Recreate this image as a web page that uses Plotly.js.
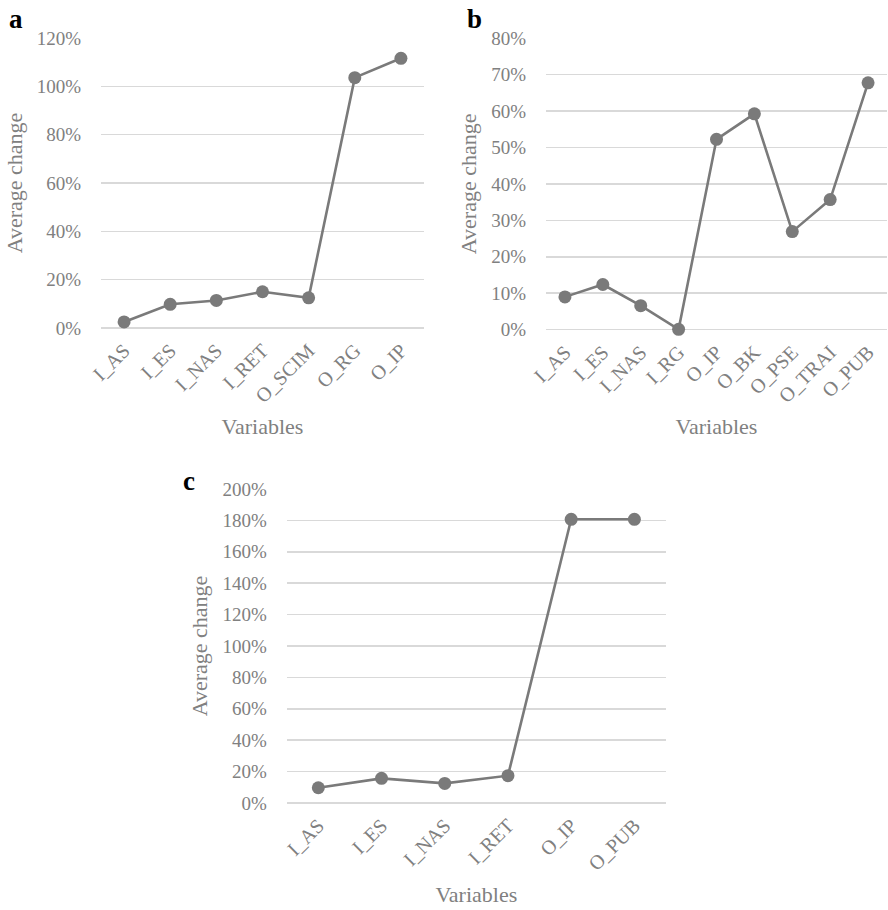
<!DOCTYPE html>
<html>
<head>
<meta charset="utf-8">
<script src="https://cdn.plot.ly/plotly-3.0.1.min.js"></script>
<style>html,body{margin:0;padding:0;background:#fff;}#chart{width:888px;height:910px;}</style>
</head>
<body>
<div id="chart"></div>
<script>
// Panel a
const catsA = ["I_AS", "I_ES", "I_NAS", "I_RET", "O_SCIM", "O_RG", "O_IP"];
const valsA = [0.025, 0.098, 0.114, 0.150, 0.125, 1.036, 1.116];
const ticksA = [0, 0.2, 0.4, 0.6, 0.8, 1.0, 1.2];
// Panel b
const catsB = ["I_AS", "I_ES", "I_NAS", "I_RG", "O_IP", "O_BK", "O_PSE", "O_TRAI", "O_PUB"];
const valsB = [0.090, 0.124, 0.066, 0.001, 0.522, 0.592, 0.269, 0.357, 0.677];
const ticksB = [0, 0.1, 0.2, 0.3, 0.4, 0.5, 0.6, 0.7, 0.8];
// Panel c
const catsC = ["I_AS", "I_ES", "I_NAS", "I_RET", "O_IP", "O_PUB"];
const valsC = [0.097, 0.157, 0.125, 0.174, 1.807, 1.807];
const ticksC = [0, 0.2, 0.4, 0.6, 0.8, 1.0, 1.2, 1.4, 1.6, 1.8, 2.0];

const gray = "#808080";
const font = "Liberation Serif";

function trace(x, y, xa, ya) {
  return {
    type: "scatter", mode: "lines+markers", x: x, y: y, xaxis: xa, yaxis: ya,
    line: {color: "#7a7a7a", width: 2.6},
    marker: {color: "#7a7a7a", size: 13},
    showlegend: false, cliponaxis: false
  };
}

function xax(cats, dom, anchor) {
  return {
    domain: dom, anchor: anchor, type: "category",
    range: [-0.5, cats.length - 0.5],
    tickangle: -45, showgrid: false, zeroline: false, showline: false,
    ticks: "outside", ticklen: 2, tickcolor: "rgba(0,0,0,0)",
    tickfont: {family: font, size: 20, color: gray},
    title: {text: "Variables", font: {family: font, size: 22, color: gray}, standoff: 12},
    automargin: false, fixedrange: true
  };
}

function yax(ticks, dom, anchor) {
  return {
    domain: dom, anchor: anchor,
    range: [0, ticks[ticks.length - 1]],
    tickvals: ticks, tickformat: ".0%",
    showgrid: true, gridcolor: "#d9d9d9", gridwidth: 1.5,
    zeroline: true, zerolinecolor: "#d9d9d9", zerolinewidth: 1.5,
    showline: false,
    ticks: "outside", ticklen: 15, tickcolor: "rgba(0,0,0,0)",
    tickfont: {family: font, size: 19, color: gray},
    title: {text: "Average change", font: {family: font, size: 22, color: gray}, standoff: 8},
    automargin: false, fixedrange: true
  };
}

const data = [
  trace(catsA, valsA, "x", "y"),
  trace(catsB, valsB, "x2", "y2"),
  trace(catsC, valsC, "x3", "y3")
];

const layout = {
  width: 888, height: 910,
  margin: {l: 0, r: 0, t: 0, b: 0},
  font: {family: font, color: gray},
  paper_bgcolor: "#ffffff", plot_bgcolor: "#ffffff",
  xaxis: xax(catsA, [101/888, 424/888], "y"),
  yaxis: yax(ticksA, [1 - 328/910, 1 - 38/910], "x"),
  xaxis2: xax(catsB, [546/888, 887/888], "y2"),
  yaxis2: yax(ticksB, [1 - 329.7/910, 1 - 38/910], "x2"),
  xaxis3: xax(catsC, [286.7/888, 666/888], "y3"),
  yaxis3: yax(ticksC, [1 - 803/910, 1 - 489/910], "x3"),
  annotations: [
    {text: "<b>a</b>", x: 7/888, y: 1 - 2/910, xref: "paper", yref: "paper", xanchor: "left", yanchor: "top", showarrow: false, font: {family: font, size: 27, color: "#000"}},
    {text: "<b>b</b>", x: 465/888, y: 1 - 2/910, xref: "paper", yref: "paper", xanchor: "left", yanchor: "top", showarrow: false, font: {family: font, size: 27, color: "#000"}},
    {text: "<b>c</b>", x: 181/888, y: 1 - 464/910, xref: "paper", yref: "paper", xanchor: "left", yanchor: "top", showarrow: false, font: {family: font, size: 27, color: "#000"}}
  ]
};

Plotly.newPlot("chart", data, layout, {displayModeBar: false, staticPlot: true});
</script>
</body>
</html>
